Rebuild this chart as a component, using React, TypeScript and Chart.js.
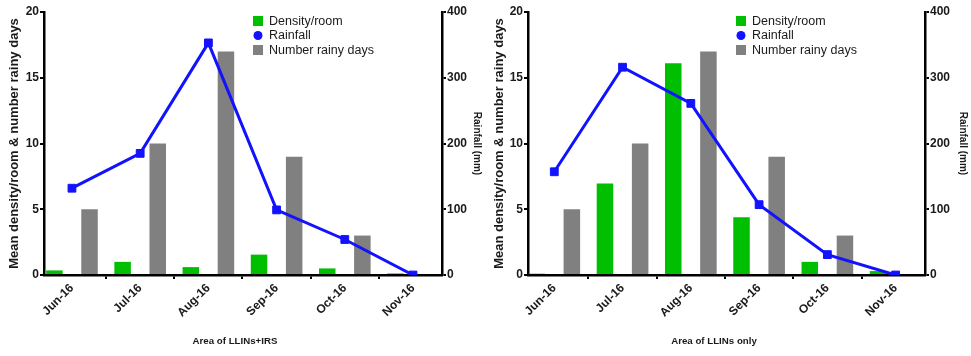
import React, { useEffect, useRef } from 'react';
import { Chart, registerables } from 'chart.js';

Chart.register(...registerables);

const months = ['Jun-16', 'Jul-16', 'Aug-16', 'Sep-16', 'Oct-16', 'Nov-16'];
const rainyDays = [5, 10, 17, 9, 3, 0];
const irsDensity = [0.35, 1.0, 0.6, 1.55, 0.5, 0.12];
const irsRainfall = [132, 185, 353, 99, 54, 0];
const llinDensity = [0.1, 6.95, 16.1, 4.4, 1.0, 0.3];
const llinRainfall = [157, 316, 261, 107, 31, 0];
const leftAxisTitle = 'Mean density/room & number rainy days';
const rightAxisTitle = 'Rainfall (mm)';
const legendLabels = ['Density/room', 'Rainfall', 'Number rainy days'];

const FONT = '"Liberation Sans", Arial, Helvetica, sans-serif';
const GREEN = '#00bf00';
const BLUE = '#1212ff';
const GRAY = '#808080';

const overlayPlugin = {
  id: 'overlay',
  afterDraw(chart: any, _args: any, opts: any) {
    const ctx = chart.ctx;
    ctx.save();
    // legend
    const x = opts.legendX;
    const rows = [21, 35.5, 50];
    ctx.font = `12.5px ${FONT}`;
    ctx.textBaseline = 'middle';
    ctx.textAlign = 'left';
    ctx.fillStyle = GREEN;
    ctx.fillRect(x, rows[0] - 5, 10, 10);
    ctx.fillStyle = BLUE;
    ctx.beginPath();
    ctx.arc(x + 5, rows[1], 4.5, 0, Math.PI * 2);
    ctx.fill();
    ctx.fillStyle = GRAY;
    ctx.fillRect(x, rows[2] - 5, 10, 10);
    ctx.fillStyle = '#1a1a1a';
    legendLabels.forEach((t, i) => ctx.fillText(t, x + 16, rows[i] + 0.5));
    // x title
    ctx.font = `bold 9.7px ${FONT}`;
    ctx.textAlign = 'center';
    ctx.fillText(opts.xTitle, opts.xTitleX, 341);
    ctx.restore();
  },
};

type PanelProps = {
  width: number;
  density: number[];
  rainfall: number[];
  xMin: number;
  xMax: number;
  leftW: number;
  rightW: number;
  xTitle: string;
  xTitleX: number;
  legendX: number;
};

function Panel(p: PanelProps) {
  const ref = useRef<HTMLCanvasElement | null>(null);
  useEffect(() => {
    if (!ref.current) return;
    const tickFont = { family: FONT, size: 12, weight: 'bold' as const };
    const tickGrid = {
      display: true,
      drawOnChartArea: false,
      drawTicks: true,
      tickLength: 4,
      color: '#000',
      lineWidth: 2,
    };
    const chart = new Chart(ref.current, {
      type: 'bar',
      data: {
        datasets: [
          {
            type: 'line',
            label: legendLabels[1],
            data: p.rainfall.map((v, i) => ({ x: i, y: v })),
            yAxisID: 'y1',
            borderColor: BLUE,
            backgroundColor: BLUE,
            borderWidth: 3,
            pointStyle: 'rect',
            pointRadius: 5.5,
            pointBorderWidth: 1,
            tension: 0,
            order: 0,
          } as any,
          {
            type: 'bar',
            label: legendLabels[0],
            data: p.density.map((v, i) => ({ x: i, y: v })),
            yAxisID: 'y',
            backgroundColor: GREEN,
            categoryPercentage: 1.03,
            barPercentage: 0.47,
            order: 1,
          },
          {
            type: 'bar',
            label: legendLabels[2],
            data: rainyDays.map((v, i) => ({ x: i, y: v })),
            yAxisID: 'y',
            backgroundColor: GRAY,
            categoryPercentage: 1.03,
            barPercentage: 0.47,
            order: 1,
          },
        ],
      },
      options: {
        responsive: false,
        animation: false,
        layout: { padding: { top: 12, left: 0, right: 0, bottom: 0 } },
        plugins: {
          legend: { display: false },
          tooltip: { enabled: false },
          overlay: { legendX: p.legendX, xTitle: p.xTitle, xTitleX: p.xTitleX },
        } as any,
        scales: {
          x: {
            type: 'linear',
            min: p.xMin,
            max: p.xMax,
            offset: false,
            afterFit: (s: any) => {
              s.height = 81;
            },
            afterBuildTicks: (s: any) => {
              s.ticks = months.map((_, i) => ({ value: i }));
            },
            ticks: {
              autoSkip: false,
              maxRotation: 45,
              minRotation: 45,
              padding: 2,
              color: '#1a1a1a',
              font: tickFont,
              callback: (v: any) => months[Math.round(Number(v))] ?? '',
            },
            grid: tickGrid,
            border: { display: true, color: '#000', width: 2.5 },
          },
          y: {
            type: 'linear',
            position: 'left',
            min: 0,
            max: 20,
            afterFit: (s: any) => {
              s.width = p.leftW;
            },
            ticks: { stepSize: 5, padding: 1, color: '#1a1a1a', font: tickFont },
            grid: tickGrid,
            border: { display: true, color: '#000', width: 2.5 },
            title: {
              display: true,
              text: leftAxisTitle,
              color: '#1a1a1a',
              font: { family: FONT, size: 13, weight: 'bold' },
              padding: { top: 7, bottom: 0 },
            },
          },
          y1: {
            type: 'linear',
            position: 'right',
            min: 0,
            max: 400,
            afterFit: (s: any) => {
              s.width = p.rightW;
            },
            ticks: { stepSize: 100, padding: 1, color: '#1a1a1a', font: tickFont },
            grid: tickGrid,
            border: { display: true, color: '#000', width: 2.5 },
            title: {
              display: true,
              text: rightAxisTitle,
              color: '#1a1a1a',
              font: { family: FONT, size: 10, weight: 'bold' },
              padding: { top: 2, bottom: 0 },
            },
          },
        },
      } as any,
      plugins: [overlayPlugin],
    });
    return () => chart.destroy();
  }, []);
  return <canvas ref={ref} width={p.width} height={356} style={{ display: 'block', width: p.width, height: 356 }} />;
}

export default function App() {
  return (
    <div style={{ position: 'fixed', left: 0, top: 0, width: 971, height: 356, background: '#fff', display: 'flex' }}>
      <Panel
        width={485}
        density={irsDensity}
        rainfall={irsRainfall}
        xMin={-0.41}
        xMax={5.425}
        leftW={44}
        rightW={43}
        xTitle="Area of LLINs+IRS"
        xTitleX={235}
        legendX={253}
      />
      <Panel
        width={486}
        density={llinDensity}
        rainfall={llinRainfall}
        xMin={-0.385}
        xMax={5.43}
        leftW={43}
        rightW={46}
        xTitle="Area of LLINs only"
        xTitleX={229}
        legendX={251}
      />
    </div>
  );
}
